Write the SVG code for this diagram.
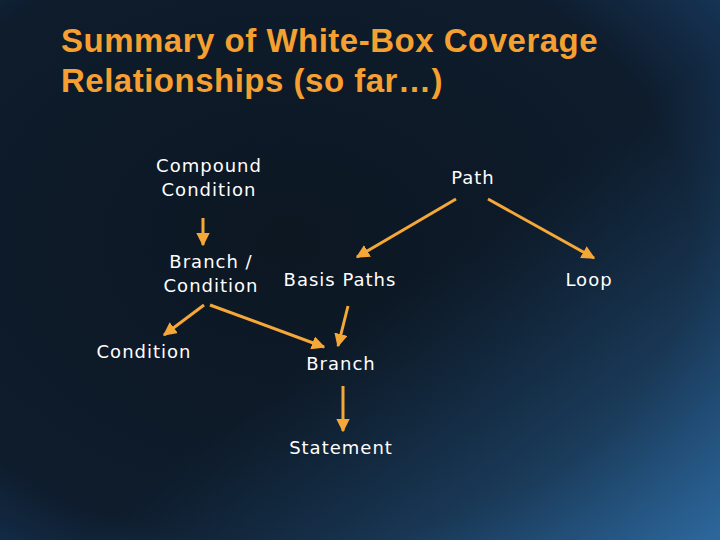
<svg xmlns="http://www.w3.org/2000/svg" width="720" height="540" viewBox="0 0 720 540">
<defs>
<radialGradient id="bg" cx="0.4" cy="0.45" r="0.8">
<stop offset="0" stop-color="#0c1722"/>
<stop offset="0.7" stop-color="#0e1c2c"/>
<stop offset="1" stop-color="#183a60"/>
</radialGradient>
<linearGradient id="br" x1="0.55" y1="0.55" x2="1" y2="1">
<stop offset="0" stop-color="#2a6aa8" stop-opacity="0"/>
<stop offset="1" stop-color="#3d8ccc" stop-opacity="0.55"/>
</linearGradient>
<marker id="ah" viewBox="0 0 10 10" refX="9" refY="5" markerWidth="4.5" markerHeight="4.5" orient="auto" markerUnits="strokeWidth">
<path d="M0,0 L10,5 L0,10 z" fill="#f5a838"/>
</marker>
<style>
.t{font-family:"DejaVu Sans",sans-serif;font-size:18px;letter-spacing:1px;fill:#ffffff;text-anchor:middle}
.c line{stroke:#f5a838;stroke-width:3;marker-end:url(#ah)}
.h{font-family:"Liberation Sans",Arial,sans-serif;font-weight:bold;font-size:33px;letter-spacing:0.5px;fill:#f5a030}
</style>
</defs>
<rect width="720" height="540" fill="url(#bg)"/>
<rect width="720" height="540" fill="url(#br)"/>
<text class="h" x="61" y="52">Summary of White-Box Coverage</text>
<text class="h" x="61" y="92">Relationships (so far…)</text>
<g id="compound"><text class="t" x="209" y="172">Compound</text><text class="t" x="209" y="196">Condition</text></g>
<g id="path"><text class="t" x="473" y="184">Path</text></g>
<g id="branchcond"><text class="t" x="211" y="268">Branch /</text><text class="t" x="211" y="292">Condition</text></g>
<g id="basis"><text class="t" x="340" y="286">Basis Paths</text></g>
<g id="loop"><text class="t" x="589" y="286">Loop</text></g>
<g id="condition"><text class="t" x="144" y="358">Condition</text></g>
<g id="branch"><text class="t" x="341" y="370">Branch</text></g>
<g id="statement"><text class="t" x="341" y="454">Statement</text></g>
<g id="connectors" class="c">
<line x1="203" y1="218" x2="203" y2="245"/>
<line x1="204" y1="305" x2="164" y2="335"/>
<line x1="210" y1="305" x2="324" y2="347"/>
<line x1="456" y1="199" x2="357" y2="257"/>
<line x1="488" y1="199" x2="594" y2="258"/>
<line x1="348" y1="306" x2="338" y2="346"/>
<line x1="343" y1="386" x2="343" y2="431"/>
</g>
</svg>
